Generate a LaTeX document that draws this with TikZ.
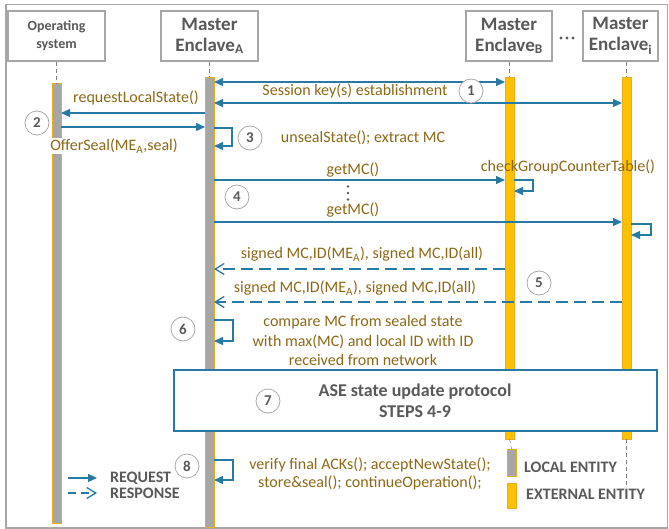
\documentclass[tikz,border=0pt]{standalone}
\usepackage{fontspec}
\setmainfont{Carlito}
\usetikzlibrary{arrows.meta,calc}

\definecolor{seqblue}{RGB}{38,122,164}
\definecolor{msgtext}{RGB}{140,104,22}
\definecolor{headgray}{RGB}{89,89,89}
\definecolor{framegray}{RGB}{166,166,166}
\definecolor{baryellow}{RGB}{255,192,0}
\definecolor{barborder}{RGB}{232,172,30}
\definecolor{bargray}{RGB}{166,166,166}
\definecolor{ringgray}{RGB}{170,170,170}

\tikzset{
  headbox/.style={draw=framegray, line width=1.5pt, fill=white, inner sep=0pt,
    align=center, text=headgray, font=\bfseries\fontsize{19}{21}\selectfont},
  gbar/.style={draw=barborder, fill=bargray, line width=0.9pt, minimum width=9pt,
    inner sep=0pt, outer sep=0pt, anchor=north},
  ybar/.style={draw=barborder, fill=baryellow, line width=0.9pt, minimum width=9pt,
    inner sep=0pt, outer sep=0pt, anchor=north},
  life/.style={draw=gray, line width=0.6pt, dash pattern=on 4pt off 3pt},
  req/.style={draw=seqblue, line width=1.3pt, -{Triangle[length=9pt,width=8pt]}},
  resp/.style={draw=seqblue, line width=1.3pt, dash pattern=on 12pt off 6pt,
    -{Straight Barb[length=9pt,width=11pt]}},
  msg/.style={text=msgtext, font=\fontsize{16}{19.5}\selectfont, inner sep=1pt, align=center},
  stepnum/.style={circle, draw=ringgray, line width=0.8pt, fill=white, minimum size=24pt,
    inner sep=0pt, text=headgray, font=\bfseries\fontsize{15}{15}\selectfont},
  legtext/.style={text=headgray, font=\bfseries\fontsize{16}{16}\selectfont, anchor=west, inner sep=0pt}
}

\begin{document}
\begin{tikzpicture}[x=1pt,y=-1pt]
\useasboundingbox (0,0) rectangle (669,529);

% outer frame
\draw[framegray, line width=1.5pt] (6,4.5) rectangle (667.5,528);

% participants
\node[headbox, minimum width=97pt, minimum height=50pt,
      font=\bfseries\fontsize{14}{18}\selectfont] (hOS) at (56.5,36) {Operating\\system};
\node[headbox, minimum width=97pt, minimum height=50pt] (hA) at (209.5,36) {Master\\Enclave\textsubscript{A}};
\node[headbox, minimum width=86pt, minimum height=50pt] (hB) at (509,36) {Master\\Enclave\textsubscript{B}};
\node[headbox, minimum width=75pt, minimum height=50pt] (hI) at (620.5,36) {Master\\Enclave\textsubscript{i}};
\fill[headgray] (561,38) circle (1.6) (567,38) circle (1.6) (573,38) circle (1.6);

% activation bars
\node[gbar, minimum height=440pt] (bOS) at (56.5,83) {};
\node[gbar, minimum height=450pt] (bA) at (209.5,77) {};
\node[ybar, minimum height=362pt] (bB) at (509.5,77) {};
\node[ybar, minimum height=362pt] (bI) at (626.5,77) {};

% legend boxes
\node[gbar, minimum height=27pt] (legL) at (511.5,449) {};
\node[ybar, minimum height=25pt] (legE) at (511.5,483) {};
\coordinate (lifeIend) at (626.5,487);

% lifelines
\draw[life] (hOS.south) -- (bOS.north);
\draw[life] (hA.south) -- (bA.north);
\draw[life] (bB.north |- hB.south) -- (bB.north);
\draw[life] (bI.north |- hI.south) -- (bI.north);
\draw[life] (bB.south) -- (legL.north);
\draw[life] (bI.south) -- (lifeIend);

% step 1: session keys
\draw[req, {Triangle[length=9pt,width=8pt]}-{Triangle[length=9pt,width=8pt]}]
  (bA.east |- 0,82) -- (bB.west |- 0,82);
\draw[req, {Triangle[length=9pt,width=8pt]}-{Triangle[length=9pt,width=8pt]}]
  (bA.east |- 0,103) -- (bI.west |- 0,103);
\node[msg] (l1) at (355,91) {Session key(s) establishment};
\node[stepnum] (c1) at (471,91) {1};

% step 2: local state
\draw[req] (bA.west |- 0,113) -- (bOS.east |- 0,113);
\node[msg] (l2a) at (136,98) {requestLocalState()};
\draw[req] (bOS.east |- 0,127) -- (bA.west |- 0,127);
\node[msg, fill=white] (l2b) at (114,146) {OfferSeal(ME\textsubscript{A},seal)};
\node[stepnum] (c2) at (37,123) {2};

% step 3
\draw[req] (bA.east |- 0,128) -- ++(18,0) |- (bA.east |- 0,146);
\node[stepnum] (c3) at (250,138) {3};
\node[msg] (l3) at (363,138) {unsealState(); extract MC};

% step 4
\draw[req] (bA.east |- 0,180) -- (bB.west |- 0,180);
\node[msg] (l4a) at (353,170) {getMC()};
\fill[headgray] (348,186.5) circle (1.4) (348,193) circle (1.4) (348,199.5) circle (1.4);
\draw[req] (bA.east |- 0,222) -- (bI.west |- 0,222);
\node[msg] (l4b) at (353,210) {getMC()};
\node[stepnum] (c4) at (237,197) {4};
\node[msg] (l4c) at (568,167) {checkGroupCounterTable()};
\draw[req] (bB.east |- 0,180) -- ++(19,0) |- (bB.east |- 0,191);
\draw[req] (bI.east |- 0,224) -- ++(20,0) |- (bI.east |- 0,235);

% step 5: responses
\draw[resp] (bB.west |- 0,269) -- (bA.east |- 0,269);
\node[msg] (l5a) at (362,254) {signed MC,ID(ME\textsubscript{A}), signed MC,ID(all)};
\draw[resp] (bI.west |- 0,302) -- (bA.east |- 0,302);
\node[msg] (l5b) at (355,288) {signed MC,ID(ME\textsubscript{A}), signed MC,ID(all)};
\node[stepnum] (c5) at (539,283) {5};

% step 6
\draw[req] (bA.east |- 0,320) -- ++(19,0) |- (bA.east |- 0,341);
\node[stepnum] (c6) at (183,329) {6};
\node[msg] (l6) at (363,341) {compare MC from sealed state\\with max(MC) and local ID with ID\\received from network};

% step 7
\node[draw=seqblue, line width=1.8pt, fill=white, minimum width=483pt, minimum height=61pt,
      inner sep=0pt] (ase) at (415.5,400.5) {};
\node[text=headgray, font=\bfseries\fontsize{18}{21}\selectfont, align=center] (asetext)
  at (415,400.5) {ASE state update protocol\\STEPS 4-9};
\node[stepnum] (c7) at (268,401) {7};

% step 8
\draw[req] (bA.east |- 0,460) -- ++(19,0) |- (bA.east |- 0,480);
\node[stepnum] (c8) at (187,466) {8};
\node[msg, font=\fontsize{16}{18}\selectfont] (l8) at (370,474)
  {verify final ACKs(); acceptNewState();\\store\&seal(); continueOperation();};

% legend
\coordinate (lgA1) at (68,478);
\coordinate (lgA2) at (97,478);
\coordinate (lgB1) at (68,493);
\coordinate (lgB2) at (97,493);
\draw[req] (lgA1) -- (lgA2);
\draw[resp, dash pattern=on 8pt off 5pt] (lgB1) -- (lgB2);
\node[legtext] (lreq) at (110,478) {REQUEST};
\node[legtext] (lresp) at (110,493) {RESPONSE};
\node[legtext] (lloc) at (524,467) {LOCAL ENTITY};
\node[legtext] (lext) at (526,494) {EXTERNAL ENTITY};
\end{tikzpicture}
\end{document}
